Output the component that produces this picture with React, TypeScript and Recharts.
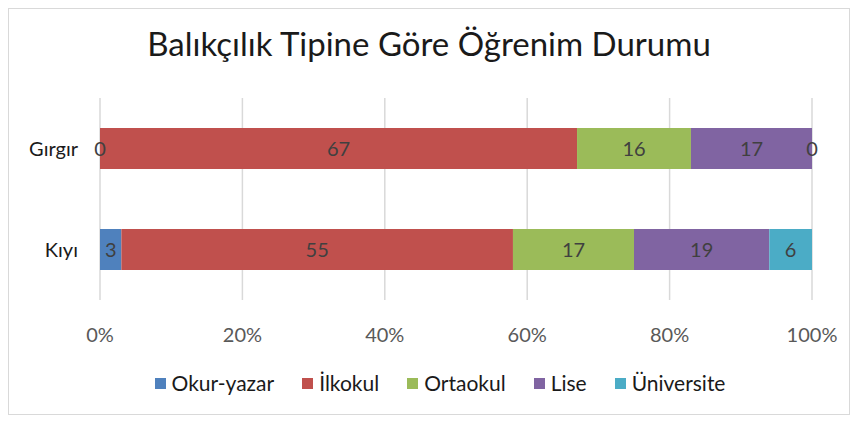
import { Bar, BarChart, CartesianGrid, LabelList, XAxis, YAxis } from "recharts";

const kategoriler = ["Gırgır", "Kıyı"];
const seriler = ["Okur-yazar", "İlkokul", "Ortaokul", "Lise", "Üniversite"];
const renkler = ["#4F81BD", "#C0504D", "#9BBB59", "#8064A2", "#4BACC6"];

const okurYazar = [0, 3];
const ilkokul = [67, 55];
const ortaokul = [16, 17];
const lise = [17, 19];
const universite = [0, 6];

const yuzdeTikler = [0, 20, 40, 60, 80, 100];

const degerler = [okurYazar, ilkokul, ortaokul, lise, universite];

const veri = kategoriler.map((ad, i) => {
  const satir: Record<string, string | number> = { ad };
  seriler.forEach((s, j) => {
    satir[s] = degerler[j][i];
  });
  return satir;
});

const font = "Lato, 'Open Sans', sans-serif";

const Lejant = () => (
  <div
    style={{
      position: "absolute",
      top: 362,
      left: 11,
      width: "100%",
      display: "flex",
      justifyContent: "center",
      gap: 28,
      fontFamily: font,
      fontSize: 21,
      color: "#1a1a1a",
      lineHeight: "24px",
    }}
  >
    {seriler.map((s, i) => (
      <div key={s} style={{ display: "flex", alignItems: "center", gap: 6 }}>
        <span style={{ width: 11, height: 11, background: renkler[i], display: "inline-block" }} />
        <span>{s}</span>
      </div>
    ))}
  </div>
);

export default function App() {
  return (
    <div
      style={{
        position: "relative",
        width: 842,
        height: 407,
        border: "1px solid #d9d9d9",
        boxSizing: "border-box",
        background: "#fff",
        overflow: "hidden",
      }}
    >
      <div
        style={{
          position: "absolute",
          top: 14,
          left: 0,
          width: "100%",
          textAlign: "center",
          fontFamily: font,
          fontSize: 33,
          color: "#1a1a1a",
        }}
      >
        Balıkçılık Tipine Göre Öğrenim Durumu
      </div>
      <BarChart
        width={840}
        height={405}
        data={veri}
        layout="vertical"
        margin={{ top: 89, right: 37, bottom: 0, left: 0 }}
      >
        <CartesianGrid horizontal={false} stroke="#d9d9d9" strokeWidth={1.5} />
        <XAxis
          type="number"
          domain={[0, 100]}
          ticks={yuzdeTikler}
          tickFormatter={(v) => `${v}%`}
          axisLine={false}
          tickLine={false}
          tickSize={0}
          tickMargin={28}
          height={114}
          tick={{ fill: "#595959", fontSize: 20, fontFamily: font }}
        />
        <YAxis
          type="category"
          dataKey="ad"
          width={91}
          axisLine={false}
          tickLine={false}
          tickSize={0}
          tickMargin={22}
          tick={{ fill: "#1a1a1a", fontSize: 20, fontFamily: font }}
        />
        {seriler.map((s, i) => (
          <Bar
            key={s}
            dataKey={s}
            stackId="a"
            fill={renkler[i]}
            barSize={41}
            minPointSize={0.01}
            isAnimationActive={false}
          >
            <LabelList dataKey={s} position="center" fill="#404040" fontSize={20} fontFamily={font} />
          </Bar>
        ))}
      </BarChart>
      <Lejant />
    </div>
  );
}
